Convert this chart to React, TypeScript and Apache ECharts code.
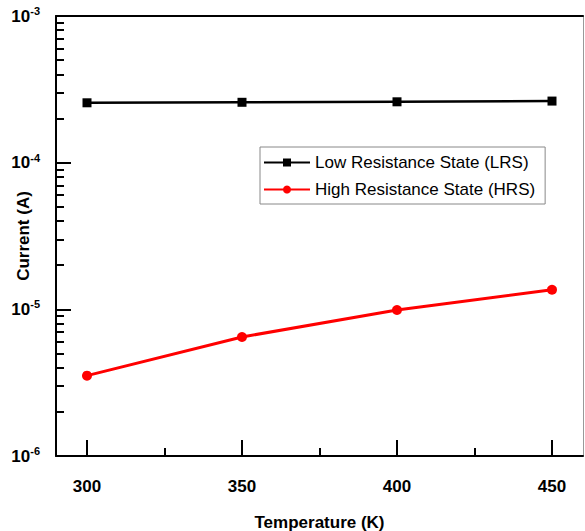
import React, { useEffect, useRef } from "react";
import * as echarts from "echarts";

const temperatures = [300, 350, 400, 450];
const lrsCurrent = [2.56e-4, 2.58e-4, 2.6e-4, 2.63e-4];
const hrsCurrent = [3.53e-6, 6.48e-6, 9.9e-6, 1.36e-5];
const xMajorTicks = [300, 350, 400, 450];
const xMinorTicks = [325, 375, 425];
const yMantissas = [2, 3, 4, 5, 6, 7, 8, 9];
const yDecades = [1e-6, 1e-5, 1e-4];

const FONT = '"Liberation Sans", Arial, sans-serif';

export default function App() {
  const ref = useRef<HTMLDivElement>(null);
  useEffect(() => {
    if (!ref.current) return;
    const chart = echarts.init(ref.current, undefined, { renderer: "svg" });
    const yMinor: number[] = [];
    yDecades.forEach((d) => yMantissas.forEach((m) => yMinor.push(m * d)));
    const xMin = 290;
    const xMax = 460;
    chart.setOption({
      animation: false,
      backgroundColor: "#ffffff",
      grid: { left: 56, right: 2, top: 16, bottom: 75, containLabel: false, outerBoundsMode: "none" },
      legend: {
        orient: "vertical",
        left: 260,
        top: 147,
        borderColor: "#888888",
        borderWidth: 1,
        padding: [7, 10, 6, 3],
        itemWidth: 46,
        itemHeight: 10,
        itemGap: 10,
        textStyle: { fontFamily: FONT, fontSize: 17, color: "#000" },
        data: ["Low Resistance State (LRS)", "High Resistance State (HRS)"],
      },
      xAxis: [
        {
          type: "value",
          min: xMin,
          max: xMax,
          position: "bottom",
          axisLine: { show: true, lineStyle: { color: "#000", width: 2 } },
          axisTick: { show: true, inside: true, length: 16, customValues: xMajorTicks, lineStyle: { color: "#000", width: 2 } },
          axisLabel: {
            show: true,
            customValues: xMajorTicks,
            margin: 22,
            fontFamily: FONT,
            fontWeight: "bold",
            fontSize: 17,
            color: "#000",
          },
          splitLine: { show: false },
          name: "Temperature (K)",
          nameLocation: "middle",
          nameGap: 58,
          nameMoveOverlap: false,
          nameTextStyle: { fontFamily: FONT, fontWeight: "bold", fontSize: 17, color: "#000" },
        },
        {
          type: "value",
          min: xMin,
          max: xMax,
          position: "bottom",
          axisLine: { show: false },
          axisTick: { show: true, inside: true, length: 8, customValues: xMinorTicks, lineStyle: { color: "#000", width: 2 } },
          axisLabel: { show: false },
          splitLine: { show: false },
        },
        {
          type: "value",
          min: xMin,
          max: xMax,
          position: "top",
          axisLine: { show: true, lineStyle: { color: "#000", width: 2 } },
          axisTick: { show: false },
          axisLabel: { show: false },
          splitLine: { show: false },
        },
      ],
      yAxis: [
        {
          type: "log",
          logBase: 10,
          min: 1e-6,
          max: 1e-3,
          position: "left",
          axisLine: { show: true, lineStyle: { color: "#000", width: 2 } },
          axisTick: { show: true, inside: true, length: 15, lineStyle: { color: "#000", width: 2 } },
          axisLabel: {
            margin: 16,
            formatter: (v: number) => `{b|10}{s|${Math.round(Math.log10(v))}}`,
            rich: {
              b: { fontFamily: FONT, fontWeight: "bold", fontSize: 17, color: "#000" },
              s: { fontFamily: FONT, fontWeight: "bold", fontSize: 11, color: "#000", padding: [0, 0, 10, 0] },
            },
          },
          splitLine: { show: false },
          name: "Current (A)",
          nameLocation: "middle",
          nameRotate: 90,
          nameGap: 24,
          nameMoveOverlap: false,
          nameTextStyle: { fontFamily: FONT, fontWeight: "bold", fontSize: 17, color: "#000" },
        },
        {
          type: "log",
          logBase: 10,
          min: 1e-6,
          max: 1e-3,
          position: "left",
          axisLine: { show: false },
          axisTick: { show: true, inside: true, length: 8, customValues: yMinor, lineStyle: { color: "#000", width: 2 } },
          axisLabel: { show: false },
          splitLine: { show: false },
        },
        {
          type: "log",
          logBase: 10,
          min: 1e-6,
          max: 1e-3,
          position: "right",
          axisLine: { show: true, lineStyle: { color: "#999", width: 1 } },
          axisTick: { show: false },
          axisLabel: { show: false },
          splitLine: { show: false },
        },
      ],
      series: [
        {
          name: "Low Resistance State (LRS)",
          type: "line",
          xAxisIndex: 0,
          yAxisIndex: 0,
          data: temperatures.map((t, i) => [t, lrsCurrent[i]]),
          symbol: "rect",
          symbolSize: 9,
          itemStyle: { color: "#000" },
          lineStyle: { color: "#000", width: 2.5 },
        },
        {
          name: "High Resistance State (HRS)",
          type: "line",
          xAxisIndex: 0,
          yAxisIndex: 0,
          data: temperatures.map((t, i) => [t, hrsCurrent[i]]),
          symbol: "circle",
          symbolSize: 10,
          itemStyle: { color: "#ff0000" },
          lineStyle: { color: "#ff0000", width: 3 },
        },
      ],
    });
    return () => chart.dispose();
  }, []);
  return <div ref={ref} style={{ width: 585, height: 531, position: "absolute", left: 0, top: 0 }} />;
}
